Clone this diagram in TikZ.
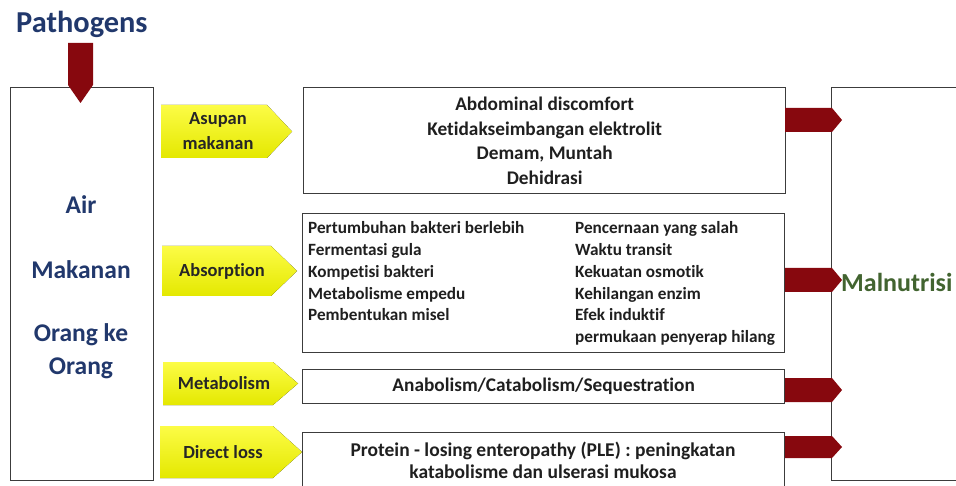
\documentclass[tikz,border=0pt]{standalone}
\usepackage{fontspec}
\setmainfont{Carlito}[Ligatures=NoCommon]
\definecolor{navy}{RGB}{33,56,108}
\definecolor{dred}{RGB}{135,8,14}
\definecolor{olive}{RGB}{66,100,48}
\definecolor{ylwA}{RGB}{252,252,70}
\definecolor{ylwB}{RGB}{228,232,0}
\definecolor{edge}{RGB}{60,60,60}
\tikzset{
  box/.style={draw=edge, line width=1.3pt, fill=white, inner sep=0pt, anchor=north west},
  ylw/.style={top color=ylwA, bottom color=ylwB, draw=none},
  redarr/.style={fill=dred, draw=none},
  bluetxt/.style={text=navy, font=\bfseries\fontsize{25.5}{33}\selectfont, align=center},
  ylwtxt/.style={text=black!85, font=\bfseries\fontsize{18.5}{25}\selectfont, align=center},
  boxtxt/.style={text=black!88, font=\bfseries\fontsize{19.3}{24.6}\selectfont, align=center},
  listtxt/.style={text=black!88, font=\bfseries\fontsize{17.2}{21.8}\selectfont, align=left, anchor=north west, inner sep=0pt}
}
\begin{document}
\begin{tikzpicture}[x=1pt,y=-1pt]
\useasboundingbox (0,0) rectangle (956,486);
\clip (0,0) rectangle (956,486);
% title
\node[text=navy, font=\bfseries\fontsize{30.4}{36}\selectfont, anchor=west, inner sep=0pt] (path) at (16,24) {Pathogens};
% left box
\node[box, minimum width=143pt, minimum height=393pt] (src) at (10,87) {};
\node[bluetxt] (air) at (81,205) {Air};
\node[bluetxt] (mak) at (81,270) {Makanan};
\node[bluetxt] (org) at (81,351.5) {Orang ke\\Orang};
% right malnutrisi box
\node[box, minimum width=180pt, minimum height=393pt] (mal) at (831,87) {};
\node[text=olive, font=\bfseries\fontsize{26}{30}\selectfont, anchor=west, inner sep=0pt] (maltxt) at (841,282) {Malnutrisi};
% middle boxes
\node[box, minimum width=482pt, minimum height=106pt] (b1) at (303,87) {};
\node[boxtxt] at (b1.center) {Abdominal discomfort\\Ketidakseimbangan elektrolit\\Demam, Muntah\\Dehidrasi};
\node[box, minimum width=482pt, minimum height=139pt] (b2) at (302,213) {};
\node[listtxt] (c1) at (308,221.5) {Pertumbuhan bakteri berlebih\\Fermentasi gula\\Kompetisi bakteri\\Metabolisme empedu\\Pembentukan misel};
\node[listtxt] (c2) at (575,221.5) {Pencernaan yang salah\\Waktu transit\\Kekuatan osmotik\\Kehilangan enzim\\Efek induktif\\permukaan penyerap hilang};
\node[box, minimum width=482pt, minimum height=34pt] (b3) at (302,369) {};
\node[boxtxt] at (b3.center) {Anabolism/Catabolism/Sequestration};
\node[box, minimum width=482pt, minimum height=80pt] (b4) at (302,432) {};
\node[boxtxt, font=\bfseries\fontsize{19.5}{21.5}\selectfont] at (543,460.5) {Protein - losing enteropathy (PLE) : peningkatan\\katabolisme dan ulserasi mukosa};
% yellow arrows
\fill[ylw] (161,105) -- (267,105) -- (292,131.5) -- (267,158) -- (161,158) -- cycle;
\node[ylwtxt] (y1) at (218,131) {Asupan\\makanan};
\fill[ylw] (162,246) -- (271,246) -- (297,271) -- (271,296) -- (162,296) -- cycle;
\node[ylwtxt] (y2) at (222,271) {Absorption};
\fill[ylw] (163,362) -- (273,362) -- (298,383.5) -- (273,405) -- (163,405) -- cycle;
\node[ylwtxt] (y3) at (224,383) {Metabolism};
\fill[ylw] (160,426) -- (273,426) -- (302,452) -- (273,478) -- (160,478) -- cycle;
\node[ylwtxt] (y4) at (223,452) {Direct loss};
% red arrows
\fill[redarr] (785,108) -- (832,108) -- (842,120) -- (832,132) -- (785,132) -- cycle;
\fill[redarr] (785,268) -- (832,268) -- (842,280) -- (832,292) -- (785,292) -- cycle;
\fill[redarr] (785,378) -- (832,378) -- (842,390) -- (832,402) -- (785,402) -- cycle;
\fill[redarr] (785,436) -- (832,436) -- (842,447) -- (832,458) -- (785,458) -- cycle;
% pathogen arrow
\fill[redarr] (68,43) -- (93,43) -- (93,85) -- (80.5,103) -- (68,85) -- cycle;
\end{tikzpicture}
\end{document}
